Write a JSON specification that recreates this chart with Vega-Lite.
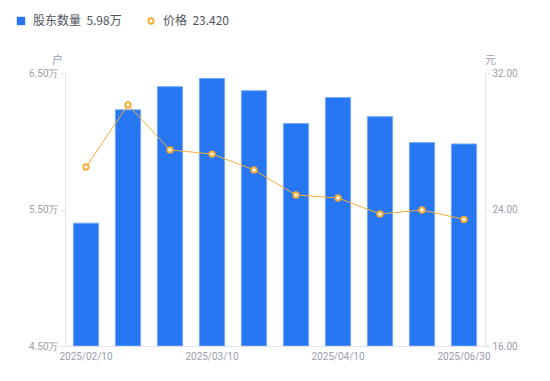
{
  "$schema": "https://vega.github.io/schema/vega-lite/v6.json",
  "width": 420,
  "height": 273,
  "autosize": {"type": "none"},
  "padding": {"left": 65, "top": 73, "right": 65, "bottom": 35},
  "background": "white",
  "config": {
    "view": {"stroke": null},
    "font": "Roboto",
    "axis": {"labelColor": "#9a9eaa", "labelFont": "Roboto", "labelFontSize": 10, "domainColor": "#e3e4e8", "tickColor": "#e3e4e8", "grid": false, "titleColor": "#9a9eaa", "titleFontWeight": "normal", "titleFontSize": 11, "titleFont": "Noto Sans CJK SC"},
    "legend": {"labelColor": "#4f5460", "labelFontSize": 12, "labelFont": "Noto Sans CJK SC", "title": null, "direction": "horizontal", "labelOffset": 6}
  },
  "data": {"values": [
    {"date": "2025/02/10", "holders": 5.40, "price": 26.49},
    {"date": "2025/02/20", "holders": 6.23, "price": 30.13},
    {"date": "2025/02/28", "holders": 6.40, "price": 27.49},
    {"date": "2025/03/10", "holders": 6.46, "price": 27.25},
    {"date": "2025/03/20", "holders": 6.37, "price": 26.32},
    {"date": "2025/03/31", "holders": 6.13, "price": 24.85},
    {"date": "2025/04/10", "holders": 6.32, "price": 24.68},
    {"date": "2025/04/20", "holders": 6.18, "price": 23.74},
    {"date": "2025/04/30", "holders": 5.99, "price": 23.97},
    {"date": "2025/06/30", "holders": 5.98, "price": 23.42}
  ]},
  "encoding": {
    "x": {
      "field": "date", "type": "ordinal", "sort": null,
      "scale": {"paddingInner": 0.4, "paddingOuter": 0.2},
      "axis": {"title": null, "labelAngle": 0, "ticks": false, "values": ["2025/02/10", "2025/03/10", "2025/04/10", "2025/06/30"], "labelPadding": 5, "labelFontSize": 10}
    }
  },
  "layer": [
    {
      "mark": {"type": "bar", "stroke": "#75a8f6", "strokeWidth": 1, "clip": true},
      "encoding": {
        "y": {
          "field": "holders", "type": "quantitative",
          "scale": {"domain": [4.5, 6.5], "zero": false, "nice": false},
          "axis": {"values": [4.5, 5.5, 6.5], "labelExpr": "format(datum.value, '.2f') + '万'", "title": "户", "titleAngle": 0, "titleAnchor": "end", "titleAlign": "center", "titleBaseline": "bottom", "titleX": -8, "titleY": -8, "tickSize": 5, "labelPadding": 2}
        },
        "y2": {"datum": 4.5},
        "fill": {
          "datum": "股东数量", "type": "nominal",
          "scale": {"domain": ["股东数量"], "range": ["#2777f2"]},
          "legend": {
            "orient": "none", "legendX": -50, "legendY": -58,
            "labelExpr": "'股东数量\u00a0\u00a05.98万'",
            "symbolType": "square", "symbolSize": 70, "symbolStrokeWidth": 0
          }
        }
      }
    },
    {
      "mark": {"type": "line", "strokeWidth": 1, "point": {"filled": true, "fill": "#ffffff", "strokeWidth": 2, "size": 28}},
      "encoding": {
        "y": {
          "field": "price", "type": "quantitative",
          "scale": {"domain": [16, 32], "zero": false, "nice": false},
          "axis": {"orient": "right", "values": [16, 24, 32], "format": ".2f", "title": "元", "titleAngle": 0, "titleAnchor": "end", "titleAlign": "center", "titleBaseline": "bottom", "titleX": 5, "titleY": -8, "tickSize": 5, "labelPadding": 2}
        },
        "stroke": {
          "datum": "价格", "type": "nominal",
          "scale": {"domain": ["价格"], "range": ["#f7ad35"]},
          "legend": {
            "orient": "none", "legendX": 80, "legendY": -58,
            "labelExpr": "'价格\u00a0\u00a023.420'",
            "symbolType": "circle", "symbolSize": 28, "symbolFillColor": "#ffffff", "symbolStrokeColor": "#f7ad35", "symbolStrokeWidth": 2
          }
        }
      }
    }
  ],
  "resolve": {"scale": {"y": "independent"}}
}
